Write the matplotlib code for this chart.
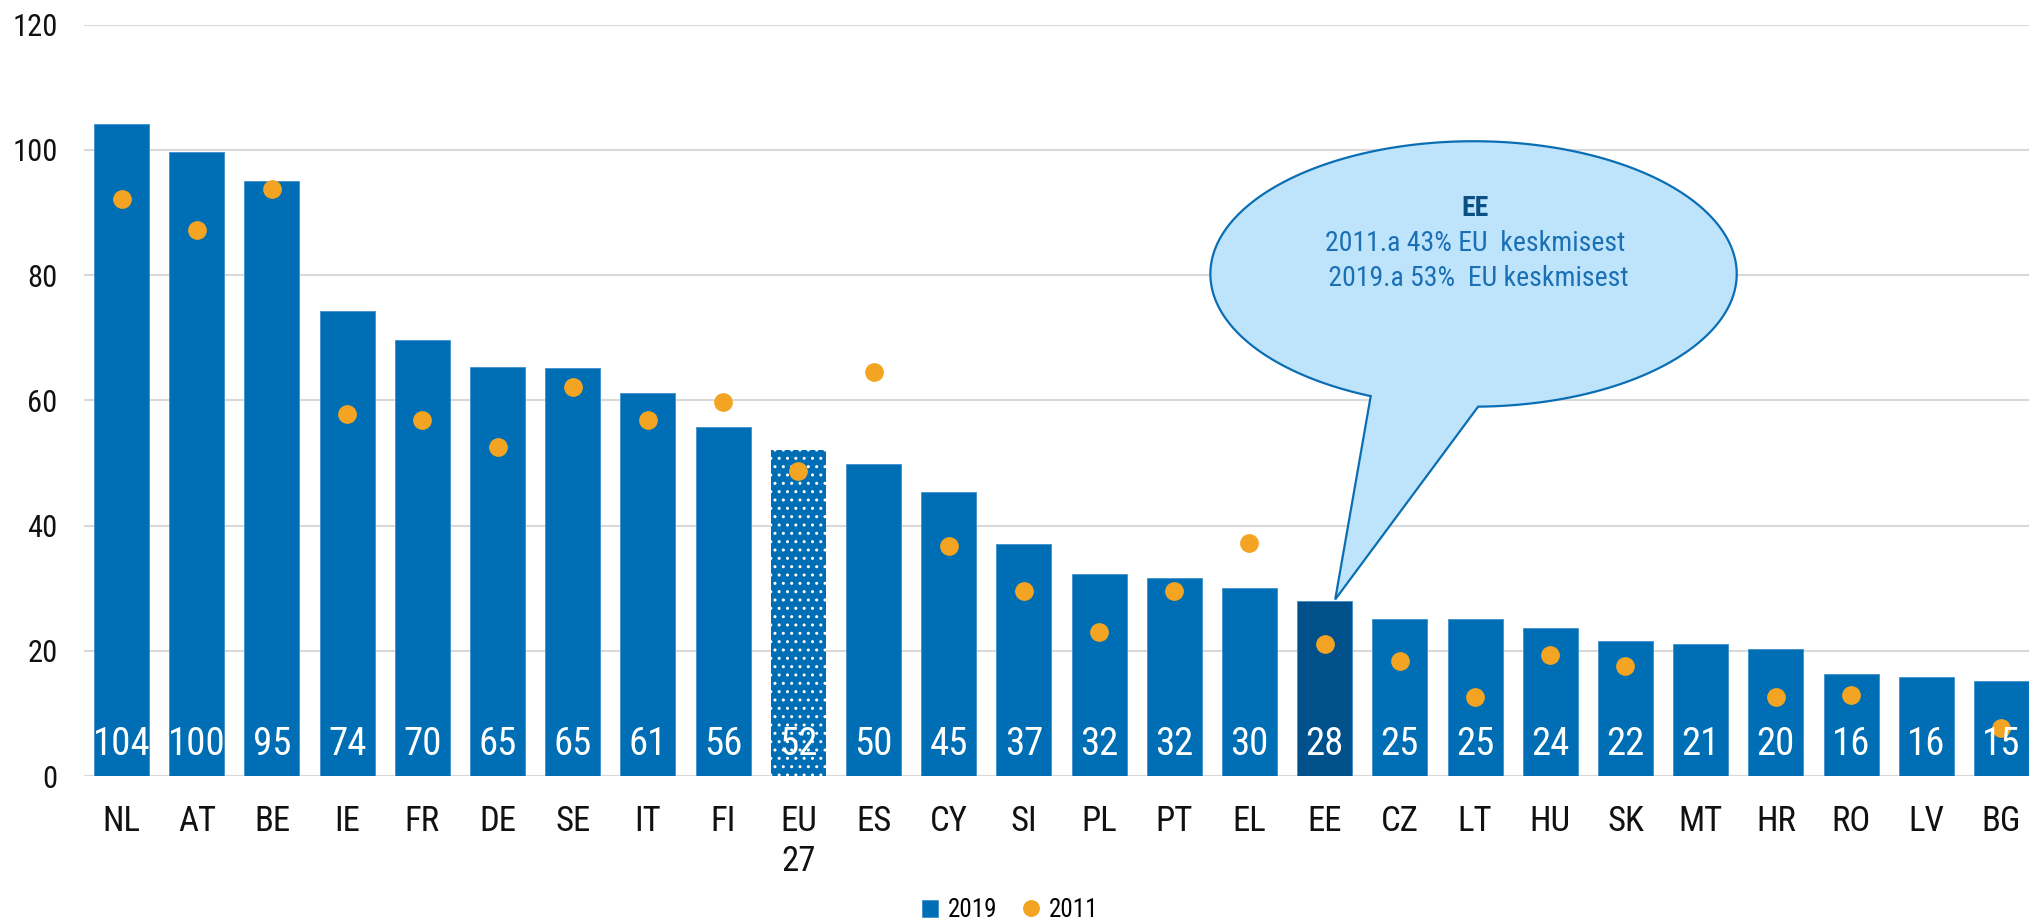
import numpy as np
import matplotlib
matplotlib.use("Agg")
import matplotlib.pyplot as plt
from matplotlib import font_manager as fm
from matplotlib.path import Path
from matplotlib.patches import PathPatch

# ---------------- data ----------------
countries = ['NL', 'AT', 'BE', 'IE', 'FR', 'DE', 'SE', 'IT', 'FI', 'EU\n27', 'ES', 'CY', 'SI',
             'PL', 'PT', 'EL', 'EE', 'CZ', 'LT', 'HU', 'SK', 'MT', 'HR', 'RO', 'LV', 'BG']
values_2019 = [104.1, 99.7, 95.1, 74.3, 69.6, 65.3, 65.2, 61.2, 55.7, 52.0, 49.9, 45.3, 37.1,
               32.2, 31.6, 30.0, 28.0, 25.1, 25.1, 23.6, 21.6, 21.1, 20.3, 16.3, 15.8, 15.2]
values_2011 = [92.1, 87.3, 93.7, 57.9, 56.8, 52.6, 62.1, 56.8, 59.8, 48.8, 64.6, 36.7, 29.6,
               23.0, 29.5, 37.2, 21.1, 18.4, 12.6, 19.4, 17.5, np.nan, 12.6, 12.9, np.nan, 7.7]
series_labels = ['2019', '2011']
yticks = [0, 20, 40, 60, 80, 100, 120]
callout_title = 'EE'
callout_lines = ['2011.a 43% EU  keskmisest', ' 2019.a 53%  EU keskmisest']
highlight = 'EE'
average = 'EU\n27'

# ---------------- fonts ----------------
def pick(names):
    for n in names:
        try:
            fm.findfont(fm.FontProperties(family=n), fallback_to_default=False)
            return n
        except ValueError:
            pass
    return 'DejaVu Sans'

FONT = pick(['Roboto Condensed', 'Liberation Sans Narrow', 'Roboto'])
plt.rcParams['font.family'] = [FONT, 'DejaVu Sans']
plt.rcParams['hatch.color'] = 'white'
plt.rcParams['hatch.linewidth'] = 1.0

BLUE = '#006EB4'
DARK = '#00508C'
ORANGE = '#F2A422'
GRID = '#D9D9D9'

W, H = 2029, 924
fig = plt.figure(figsize=(W / 100, H / 100), dpi=100)
ax = fig.add_axes([84 / W, 1 - 776 / H, 1955 / W, (776 - 24.8) / H])

x = np.arange(len(countries))
colors = [DARK if c == highlight else BLUE for c in countries]
bars = ax.bar(x, values_2019, width=55 / 75.2, color=colors, edgecolor='#3F8FCF',
              linewidth=0.6, zorder=2, label=series_labels[0])
# dotted pattern for EU average
i_avg = countries.index(average)
b = bars[i_avg]
b.set_hatch('..')
b.set_edgecolor('white')
b.set_linewidth(0)

ax.plot(x, values_2011, linestyle='none', marker='o', markersize=13.5, color=ORANGE,
        markeredgewidth=0, zorder=3, label=series_labels[1])

for xi, v in zip(x, values_2019):
    ax.text(xi, 3.4, f'{v:.0f}', ha='center', va='baseline', color='white',
            fontsize=28, zorder=4)

ax.set_xlim(-0.5, len(countries) - 0.5)
ax.set_ylim(0, 120)
ax.set_yticks(yticks)
ax.set_yticklabels([str(t) for t in yticks])
ax.set_xticks(x)
ax.set_xticklabels(countries, fontsize=25, linespacing=1.25)
ax.tick_params(axis='y', length=0, pad=19, labelsize=22, labelcolor='#111111')
ax.tick_params(axis='x', length=0, pad=21, labelcolor='#111111')
for s in ax.spines.values():
    s.set_visible(False)
ax.grid(axis='y', color=GRID, linewidth=1.5, zorder=0)
ax.set_axisbelow(True)

# ---------------- callout ----------------
i_hl = countries.index(highlight)
cx, cy, a, bb = 17.98, 80.2, 3.50, 21.2
t_right = np.deg2rad(-89.0)
t_left = np.deg2rad(247.0)
ts = np.linspace(t_right, t_left, 300)
pts = [(cx + a * np.cos(t), cy + bb * np.sin(t)) for t in ts]
tip = (i_hl + 0.14, values_2019[i_hl] + 0.2)
pts.append(tip)
pts.append(pts[0])
codes = [Path.MOVETO] + [Path.LINETO] * (len(pts) - 2) + [Path.CLOSEPOLY]
patch = PathPatch(Path(pts, codes), facecolor='#BEE4FB', edgecolor='#0A6EB4',
                  linewidth=1.6, zorder=5, joinstyle='miter')
ax.add_patch(patch)
ax.text(18.0, 90.6, callout_title, ha='center', va='center', fontsize=20,
        fontweight='bold', color='#0B4F85', zorder=6)
ax.text(18.0, 85.0, callout_lines[0], ha='center', va='center', fontsize=20,
        color='#1A6FB5', zorder=6)
ax.text(18.0, 79.5, callout_lines[1], ha='center', va='center', fontsize=20,
        color='#1A6FB5', zorder=6)

# ---------------- legend ----------------
leg = fig.legend(handles=[bars, ax.lines[0]], labels=series_labels, loc='center',
                 bbox_to_anchor=(1010 / W, 1 - 910 / H), ncol=2, frameon=False,
                 fontsize=18, handlelength=0.65, handleheight=0.65, handletextpad=0.4,
                 columnspacing=1.0, markerscale=0.9)

fig.savefig('out.png', dpi=100)
